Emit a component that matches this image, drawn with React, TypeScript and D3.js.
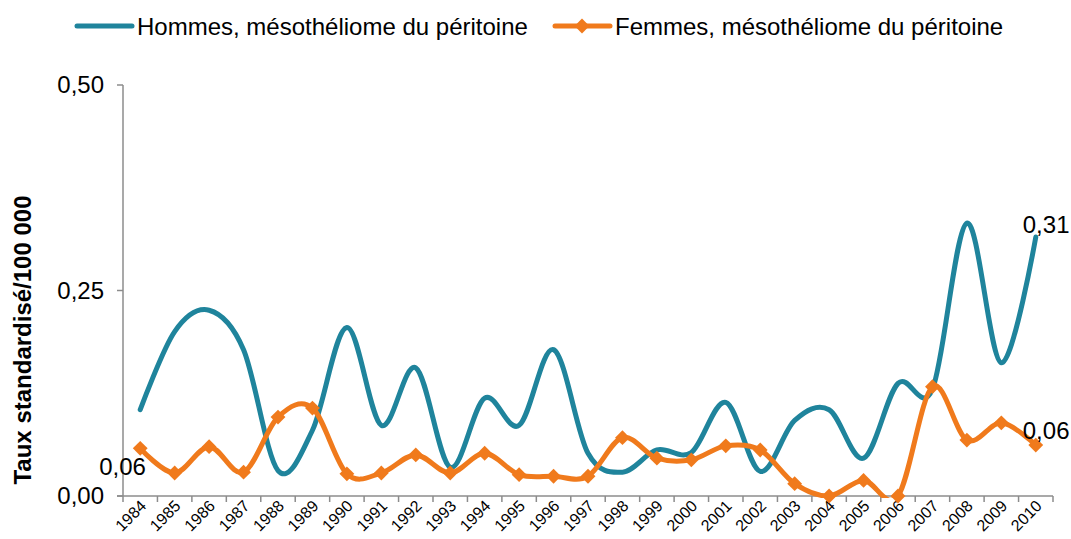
import React from 'react';
import * as d3 from 'd3';

const years = [
  '1984', '1985', '1986', '1987', '1988', '1989', '1990', '1991', '1992', '1993',
  '1994', '1995', '1996', '1997', '1998', '1999', '2000', '2001', '2002', '2003',
  '2004', '2005', '2006', '2007', '2008', '2009', '2010',
];

const hommes = [
  0.105, 0.2, 0.226, 0.178, 0.031, 0.08, 0.205, 0.086, 0.156, 0.035,
  0.119, 0.086, 0.178, 0.052, 0.029, 0.056, 0.053, 0.114, 0.03, 0.092,
  0.105, 0.046, 0.137, 0.13, 0.332, 0.162, 0.315,
];

const femmes = [
  0.058, 0.028, 0.06, 0.029, 0.096, 0.107, 0.027, 0.028, 0.05, 0.028,
  0.052, 0.026, 0.024, 0.024, 0.071, 0.046, 0.044, 0.061, 0.056, 0.015,
  0, 0.019, 0, 0.133, 0.068, 0.089, 0.062,
];

const yTicks = [0, 0.25, 0.5];
const yTickLabels = ['0,00', '0,25', '0,50'];

const seriesNames = ['Hommes, mésothéliome du péritoine', 'Femmes, mésothéliome du péritoine'];

const BLUE = '#1f849c';
const ORANGE = '#f07a1c';
const AXIS = '#8c8c8c';
const FONT = '"Liberation Sans", Arial, sans-serif';

export default function App() {
  const width = 1071;
  const height = 539;
  const x = d3.scaleBand<string>().domain(years).range([123, 1053]).padding(0);
  const y = d3.scaleLinear().domain([0, 0.5]).range([496, 85]);
  const cx = (i: number) => (x(years[i]) as number) + x.bandwidth() / 2;

  const line = d3
    .line<number>()
    .x((_, i) => cx(i))
    .y((d) => y(d))
    .curve(d3.curveCardinal.tension(0));

  const diamond = d3.symbol().type(d3.symbolDiamond2).size(140)();

  const last = years.length - 1;

  return (
    <svg width={width} height={height} style={{ position: 'absolute', left: 0, top: 0 }}
      fontFamily={FONT}>
      <defs>
        <clipPath id="plot">
          <rect x={123} y={0} width={940} height={y(0) + 2} />
        </clipPath>
      </defs>

      {/* legend */}
      <line x1={77} x2={132} y1={26} y2={26} stroke={BLUE} strokeWidth={5} strokeLinecap="round" />
      <text x={137} y={35} fontSize={24} fill="#000">{seriesNames[0]}</text>
      <line x1={555} x2={610} y1={26} y2={26} stroke={ORANGE} strokeWidth={5} strokeLinecap="round" />
      <path d={diamond as string} transform="translate(582,26)" fill={ORANGE} />
      <text x={615} y={35} fontSize={24} fill="#000">{seriesNames[1]}</text>

      {/* y axis */}
      <line x1={123} x2={123} y1={y(0.5)} y2={y(0)} stroke={AXIS} strokeWidth={1.5} />
      {yTicks.map((t, i) => (
        <g key={t}>
          <line x1={117} x2={123} y1={y(t)} y2={y(t)} stroke={AXIS} strokeWidth={1.5} />
          <text x={104} y={y(t)} dy="0.35em" textAnchor="end" fontSize={24} fill="#000">
            {yTickLabels[i]}
          </text>
        </g>
      ))}
      <text transform={`translate(31,340) rotate(-90)`} textAnchor="middle" fontSize={24}
        fontWeight="bold" fill="#000">
        Taux standardisé/100 000
      </text>

      {/* x axis */}
      <line x1={117} x2={1053} y1={y(0)} y2={y(0)} stroke={AXIS} strokeWidth={1.5} />
      {years.map((yr, i) => (
        <g key={yr}>
          <line x1={x(yr) as number} x2={x(yr) as number} y1={y(0)} y2={y(0) + 6} stroke={AXIS} strokeWidth={1.5} />
          <text transform={`translate(${cx(i) + 7},${507}) rotate(-45)`} textAnchor="end"
            fontSize={16} fill="#000">
            {yr}
          </text>
        </g>
      ))}
      <line x1={1053} x2={1053} y1={y(0)} y2={y(0) + 6} stroke={AXIS} strokeWidth={1.5} />

      {/* series */}
      <g clipPath="url(#plot)">
        <path d={line(hommes) as string} fill="none" stroke={BLUE} strokeWidth={5} strokeLinecap="round" />
        <path d={line(femmes) as string} fill="none" stroke={ORANGE} strokeWidth={5} strokeLinecap="round" />
      </g>
      {femmes.map((v, i) => (
        <path key={i} d={diamond as string} transform={`translate(${cx(i)},${y(v)})`} fill={ORANGE} />
      ))}

      {/* data labels */}
      <text x={cx(last) - 13} y={y(hommes[last]) - 4} fontSize={24} fill="#000">0,31</text>
      <text x={cx(last) - 13} y={y(femmes[last]) - 6} fontSize={24} fill="#000">0,06</text>
      <text x={cx(0) - 41} y={y(femmes[0]) + 27} fontSize={24} fill="#000">0,06</text>
    </svg>
  );
}
